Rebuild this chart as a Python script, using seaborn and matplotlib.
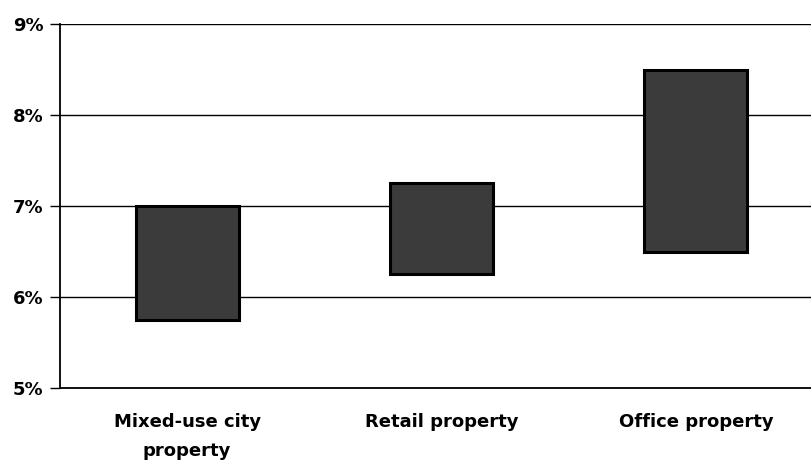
import matplotlib
matplotlib.use("Agg")
import matplotlib.pyplot as plt
import seaborn as sns
import pandas as pd
from matplotlib.ticker import FixedLocator

categories = ["Mixed-use city\nproperty", "Retail property", "Office property"]
low = [5.75, 6.25, 6.5]
high = [7.0, 7.25, 8.5]

df = pd.DataFrame({"category": categories, "low": low, "high": high})
df["span"] = df["high"] - df["low"]

sns.set_style("white")
plt.rcParams["font.family"] = ["DejaVu Sans"]
plt.rcParams["text.color"] = "black"
plt.rcParams["xtick.color"] = "black"
plt.rcParams["ytick.color"] = "black"

fig = plt.figure(figsize=(8.11, 4.62), dpi=100)
ax = fig.add_axes([60 / 811, 74 / 462, 763 / 811, 364 / 462])

sns.barplot(data=df, x="category", y="span", bottom=df["low"].values,
            color="#3b3b3b", saturation=1, width=0.405,
            edgecolor="black", linewidth=2.2, ax=ax, zorder=3)

ax.set_ylim(5, 9)
ax.set_xlim(-0.5, 2.5)
ax.set_yticks([5, 6, 7, 8, 9])
ax.set_yticklabels([f"{v}%" for v in range(5, 10)], fontsize=13, fontweight="bold")
ax.yaxis.grid(True, color="black", linewidth=1)
ax.set_axisbelow(True)

ax.tick_params(axis="x", which="major", length=0, pad=18)
ax.xaxis.set_minor_locator(FixedLocator([-0.5, 0.5, 1.5, 2.5]))
ax.tick_params(axis="x", which="minor", length=6, width=1.2, color="black", direction="out")
ax.tick_params(axis="y", length=7, width=1, color="black", direction="out", left=True, pad=5)
for lab in ax.get_xticklabels():
    lab.set_fontsize(13)
    lab.set_fontweight("bold")
    lab.set_linespacing(1.75)

for s in ["top", "right"]:
    ax.spines[s].set_visible(False)
for s in ["left", "bottom"]:
    ax.spines[s].set_color("black")
    ax.spines[s].set_linewidth(1.3)

ax.set_xlabel("")
ax.set_ylabel("")

fig.savefig("out.png", dpi=100)
